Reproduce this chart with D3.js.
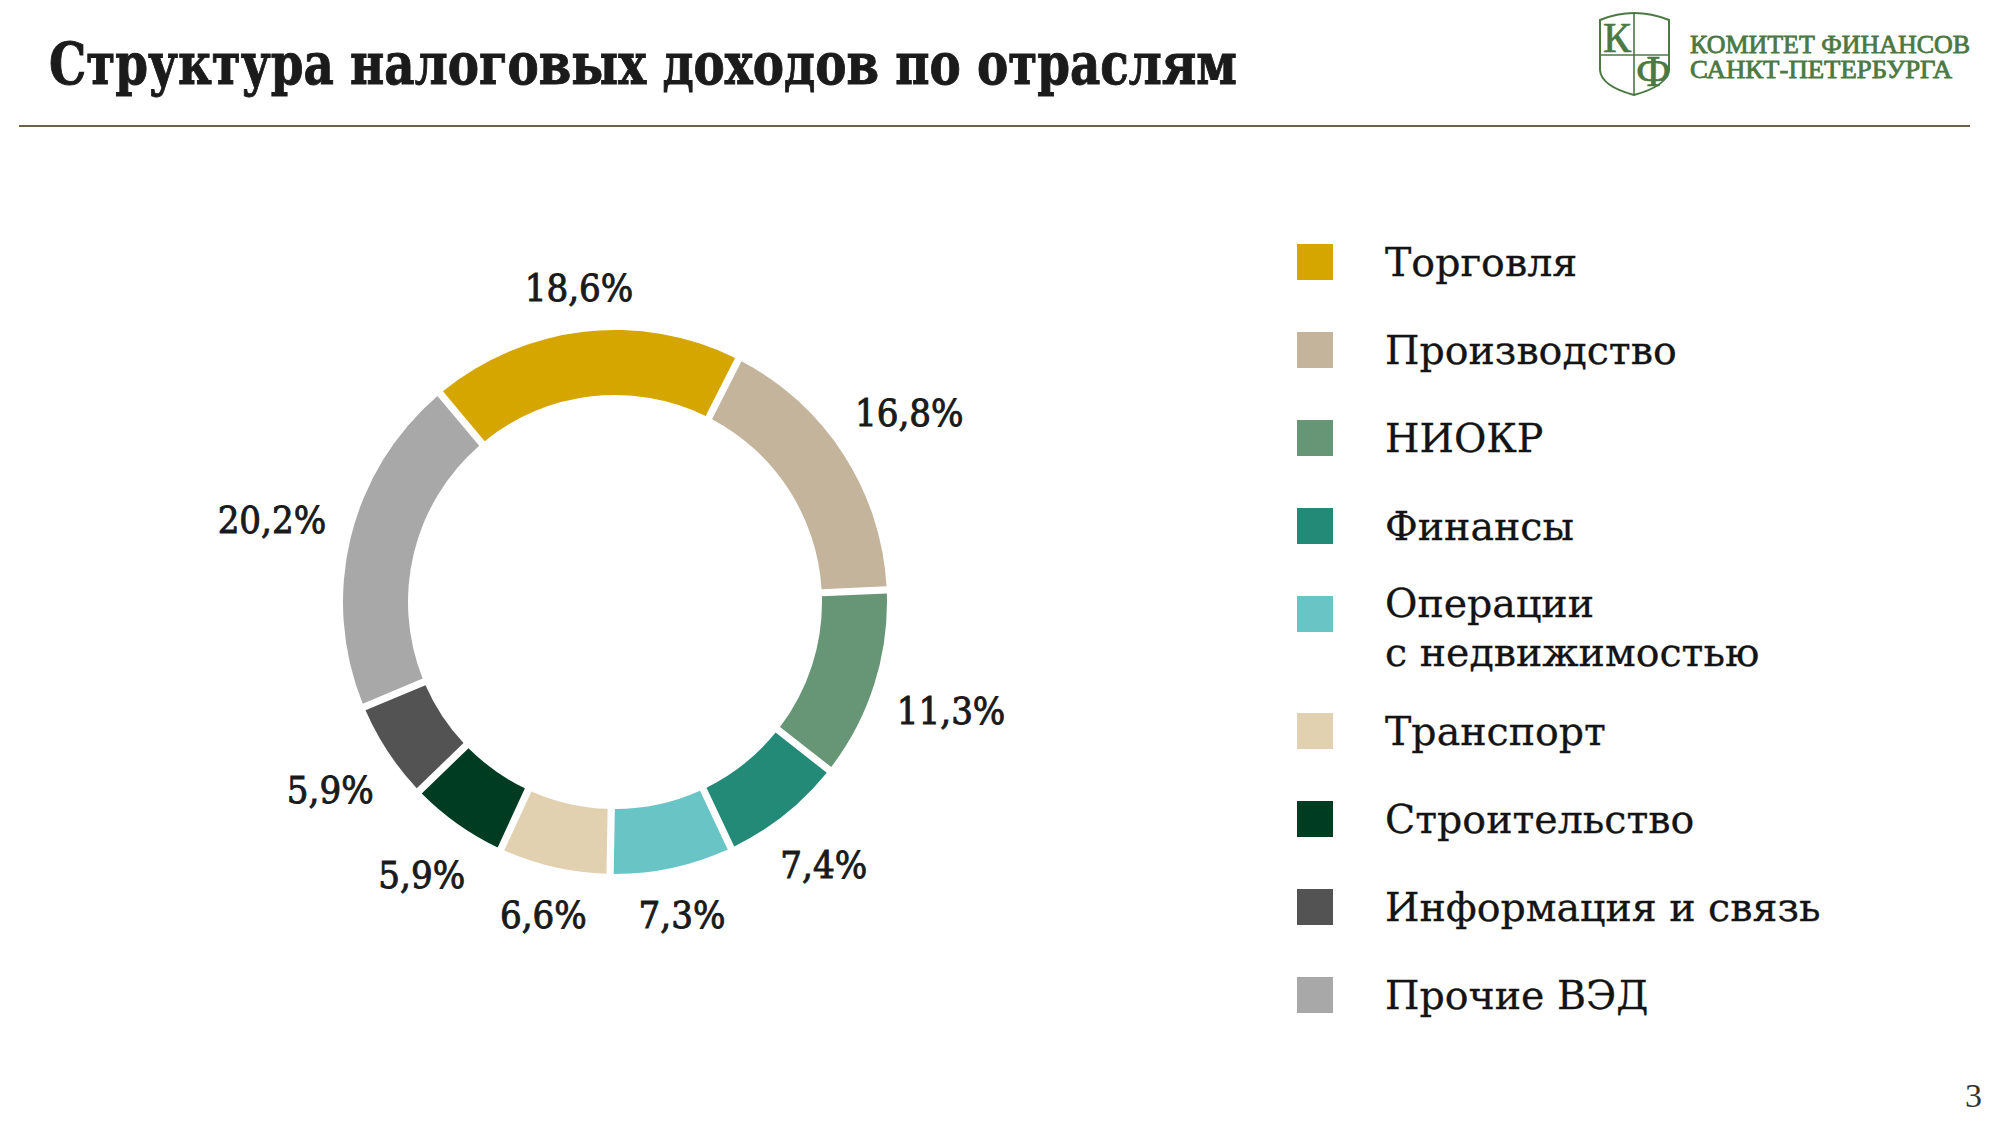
<!DOCTYPE html>
<html lang="ru">
<head>
<meta charset="utf-8">
<title>Структура налоговых доходов по отраслям</title>
<script src="https://cdn.jsdelivr.net/npm/d3@7"></script>
<style>
  html, body { margin: 0; padding: 0; background: #fff; }
  svg { display: block; }
</style>
</head>
<body>
<div id="vis"><svg></svg></div>
<script>
const WIDTH = 2000;
const HEIGHT = 1125;

const TITLE = "Структура налоговых доходов по отраслям";
const ORG_LINES = ["КОМИТЕТ ФИНАНСОВ", "САНКТ-ПЕТЕРБУРГА"];
const PAGE = "3";

// chart data
const categories = [
  "Торговля",
  "Производство",
  "НИОКР",
  "Финансы",
  "Операции\nс недвижимостью",
  "Транспорт",
  "Строительство",
  "Информация и связь",
  "Прочие ВЭД",
];
const shares = [18.6, 16.8, 11.3, 7.4, 7.3, 6.6, 5.9, 5.9, 20.2];
const palette = [
  "#d5a600", "#c3b49b", "#679676", "#238a78", "#69c5c5",
  "#e2d1b1", "#003c22", "#535353", "#a8a8a8",
];

const SERIF = "'DejaVu Serif', serif";
const SERIF_COND = "'DejaVu Serif Condensed', 'DejaVu Serif', serif";
const LOGO_FONT = "'Liberation Serif', 'Times New Roman', serif";
const LOGO_GREEN = "#4b7843";

const svg = d3.select("#vis").select("svg").attr("width", WIDTH).attr("height", HEIGHT);

// header
svg.append("text")
  .attr("x", 49)
  .attr("y", 84)
  .attr("font-family", SERIF_COND)
  .attr("font-stretch", "condensed")
  .attr("font-weight", "bold")
  .attr("font-size", 58)
  .attr("fill", "#1b1b1b")
  .attr("stroke", "#1b1b1b")
  .attr("stroke-width", 0.9)
  .attr("textLength", 1188)
  .attr("lengthAdjust", "spacingAndGlyphs")
  .text(TITLE);

svg.append("line")
  .attr("x1", 19).attr("x2", 1970)
  .attr("y1", 126).attr("y2", 126)
  .attr("stroke", "#6e6249")
  .attr("stroke-width", 1.8);

// logo: shield with К / Ф
const logo = svg.append("g").attr("class", "logo");
const shield = d3.path();
shield.moveTo(1600, 20);
shield.quadraticCurveTo(1634, 6, 1669, 20);
shield.lineTo(1669, 70);
shield.quadraticCurveTo(1667, 86, 1634, 95);
shield.quadraticCurveTo(1601, 86, 1600, 70);
shield.closePath();
logo.append("path")
  .attr("d", shield.toString())
  .attr("fill", "none")
  .attr("stroke", LOGO_GREEN)
  .attr("stroke-width", 2);
logo.append("line")
  .attr("x1", 1634).attr("x2", 1634).attr("y1", 13).attr("y2", 95)
  .attr("stroke", LOGO_GREEN).attr("stroke-width", 1.6);
logo.append("line")
  .attr("x1", 1600).attr("x2", 1669).attr("y1", 55).attr("y2", 55)
  .attr("stroke", LOGO_GREEN).attr("stroke-width", 1.6);
logo.append("text")
  .attr("x", 1603).attr("y", 52)
  .attr("font-family", LOGO_FONT)
  .attr("font-size", 42)
  .attr("fill", LOGO_GREEN)
  .attr("stroke", LOGO_GREEN)
  .attr("stroke-width", 0.6)
  .text("К");
logo.append("text")
  .attr("x", 1636).attr("y", 86)
  .attr("font-family", LOGO_FONT)
  .attr("font-size", 44)
  .attr("fill", LOGO_GREEN)
  .attr("stroke", LOGO_GREEN)
  .attr("stroke-width", 0.6)
  .text("Ф");
logo.selectAll(".org")
  .data(ORG_LINES)
  .join("text")
  .attr("class", "org")
  .attr("x", 1690)
  .attr("y", (_, i) => 53 + i * 25)
  .attr("font-family", LOGO_FONT)
  .attr("font-size", 26)
  .attr("fill", LOGO_GREEN)
  .attr("stroke", LOGO_GREEN)
  .attr("stroke-width", 0.8)
  .attr("textLength", (_, i) => (i === 0 ? 280 : 262))
  .attr("lengthAdjust", "spacingAndGlyphs")
  .text((d) => d);

// donut
const CX = 615;
const CY = 602;
const R_OUT = 272;
const R_IN = 207;
const LABEL_GAP = 25;

const colorScale = d3.scaleOrdinal().domain(categories).range(palette);
const ruNum = d3.formatLocale({ decimal: ",", thousands: " ", grouping: [3], currency: ["", ""] });
const fmt = (v) => ruNum.format(".1f")(v) + "%";

const rows = categories.map((c, i) => ({ category: c, share: shares[i] }));

const pie = d3.pie()
  .sort(null)
  .value((d) => d.share)
  .startAngle((-40 * Math.PI) / 180)
  .endAngle((320 * Math.PI) / 180);

const arc = d3.arc()
  .innerRadius(R_IN)
  .outerRadius(R_OUT)
  .padAngle(0.03)
  .padRadius(240);

const arcs = pie(rows);

const donut = svg.append("g")
  .attr("class", "donut")
  .attr("transform", `translate(${CX}, ${CY})`);

donut.selectAll("path")
  .data(arcs)
  .join("path")
  .attr("d", arc)
  .attr("fill", (d) => colorScale(d.data.category));

const LABEL_SIZE = 38;
const capH = LABEL_SIZE * 0.73;
donut.selectAll(".value")
  .data(arcs)
  .join("text")
  .attr("class", "value")
  .attr("font-family", SERIF_COND)
  .attr("font-stretch", "condensed")
  .attr("font-size", LABEL_SIZE)
  .attr("fill", "#1a1a1a")
  .attr("stroke", "#1a1a1a")
  .attr("stroke-width", 0.9)
  .attr("text-anchor", "middle")
  .text((d) => fmt(d.data.share))
  .each(function (d) {
    const a = (d.startAngle + d.endAngle) / 2;
    const ux = Math.sin(a);
    const uy = -Math.cos(a);
    const w = this.getComputedTextLength();
    const dist = R_OUT + LABEL_GAP + Math.abs(ux) * (w / 2) + Math.abs(uy) * (capH / 2);
    d3.select(this)
      .attr("x", ux * dist)
      .attr("y", uy * dist + capH / 2);
  });

// legend
const LEG_X = 1297;
const LEG_TOP = 262;
const LEG_STEP = 88;
const LEG_EXTRA = 29;
const LINE_H = 49;
const SW = 36;

let cursor = LEG_TOP;
const legendRows = categories.map((c) => {
  const lines = c.split("\n");
  const row = { category: c, lines, y: cursor };
  cursor += LEG_STEP + (lines.length - 1) * LEG_EXTRA;
  return row;
});

svg.append("g")
  .attr("class", "category-legend")
  .selectAll(".category")
  .data(legendRows)
  .join((enter) => {
    const g = enter.append("g")
      .attr("class", "category")
      .attr("transform", (d) => `translate(${LEG_X}, ${d.y})`);
    g.append("rect")
      .attr("x", 0)
      .attr("y", -SW / 2)
      .attr("width", SW)
      .attr("height", SW)
      .attr("fill", (d) => colorScale(d.category));
    g.append("text")
      .attr("font-family", SERIF)
      .attr("font-size", 39.5)
      .attr("fill", "#141414")
      .attr("stroke", "#141414")
      .attr("stroke-width", 0.3)
      .selectAll("tspan")
      .data((d) => d.lines.map((t, i) => ({ t, i, n: d.lines.length })))
      .join("tspan")
      .attr("x", 88)
      .attr("y", (l) => 14 - (l.n - 1) * 11 + l.i * LINE_H)
      .text((l) => l.t);
    return g;
  });

// page number
svg.append("text")
  .attr("x", 1982)
  .attr("y", 1107)
  .attr("text-anchor", "end")
  .attr("font-family", LOGO_FONT)
  .attr("font-size", 34)
  .attr("fill", "#333")
  .text(PAGE);
</script>
</body>
</html>
